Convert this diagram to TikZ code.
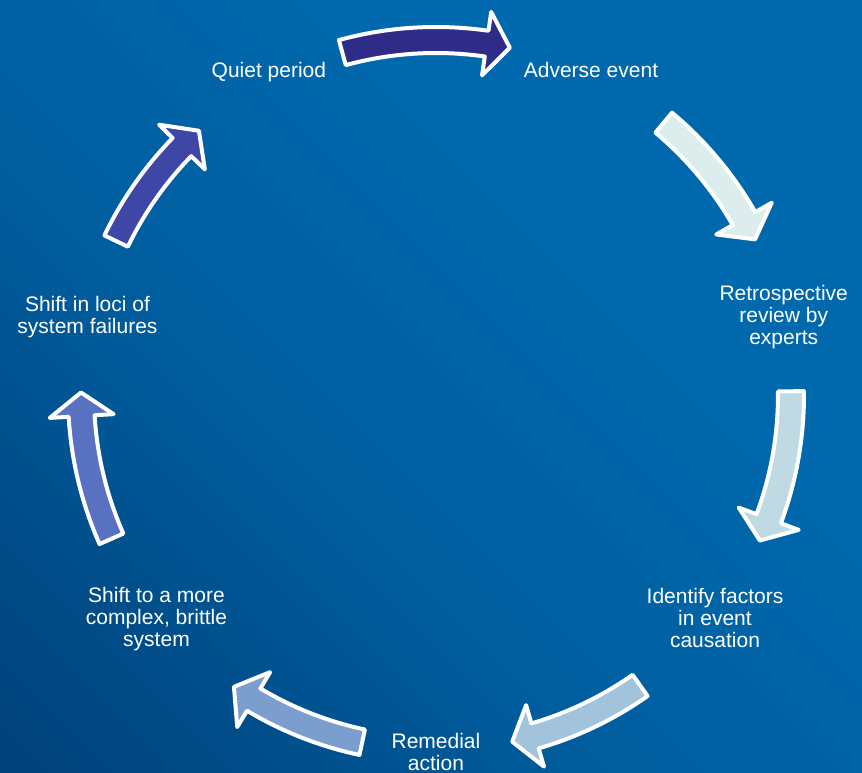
\documentclass[tikz,border=0pt]{standalone}
\usepackage{fontspec}
\setmainfont{Liberation Sans}
\definecolor{bgA}{HTML}{00427C}
\definecolor{bgB}{HTML}{005E9F}
\definecolor{bgC}{HTML}{0068AD}
\definecolor{cA}{HTML}{2F2C88}
\definecolor{cB}{HTML}{DCEDEE}
\definecolor{cC}{HTML}{BFDAE2}
\definecolor{cD}{HTML}{A1C3DB}
\definecolor{cE}{HTML}{7C9ECE}
\definecolor{cF}{HTML}{5872C1}
\definecolor{cG}{HTML}{3E47A6}
\pgfdeclarehorizontalshading{bgsh}{100bp}{color(0bp)=(bgA); color(16bp)=(bgA); color(42bp)=(bgB); color(62bp)=(bgC); color(100bp)=(bgC)}
\newcommand\cyclearrow[3]{%
  \pgfmathsetmacro\hbase{#2+3.8}%
  \filldraw[cyc, fill=#3] (#1:368) arc[start angle=#1, end angle=\hbase, radius=368]
    -- (\hbase:387) -- (#2:355) -- (\hbase:323) -- (\hbase:342)
    arc[start angle=\hbase, end angle=#1, radius=342] -- cycle;}
\begin{document}
\begin{tikzpicture}[x=1pt,y=1pt,
  lbl/.style={text=white, font=\fontsize{21}{22}\selectfont, align=center, inner sep=0pt, anchor=north},
  cyc/.style={draw=white, line width=4pt, line join=round}]
\useasboundingbox (0,0) rectangle (862,773);
\shade[shading=bgsh, shading angle=45] (0,0) rectangle (862,773);
\begin{scope}[shift={(436,378)}]
  \cyclearrow{105.3}{78.0}{cA}
  \cyclearrow{50.1}{26.0}{cB}
  \cyclearrow{0.6}{-24.2}{cC}
  \cyclearrow{-54.9}{-77.6}{cD}
  \cyclearrow{-102}{-124.7}{cE}
  \cyclearrow{203.9}{179.6}{cF}
  \cyclearrow{154.3}{131.9}{cG}
\end{scope}
\node[lbl] (quiet) at (268.9,710.7) {Quiet period};
\node[lbl] (adverse) at (591,710.7) {Adverse event};
\node[lbl] (retro) at (783.7,487.5) {Retrospective\\review by\\experts};
\node[lbl] (identify) at (715,184.5) {Identify factors\\in event\\causation};
\node[lbl] (remedial) at (436,39.5) {Remedial\\action};
\node[lbl] (shiftmore) at (156.5,185.7) {Shift to a more\\complex, brittle\\system};
\node[lbl] (loci) at (87.5,476.5) {Shift in loci of\\system failures};
\end{tikzpicture}
\end{document}
